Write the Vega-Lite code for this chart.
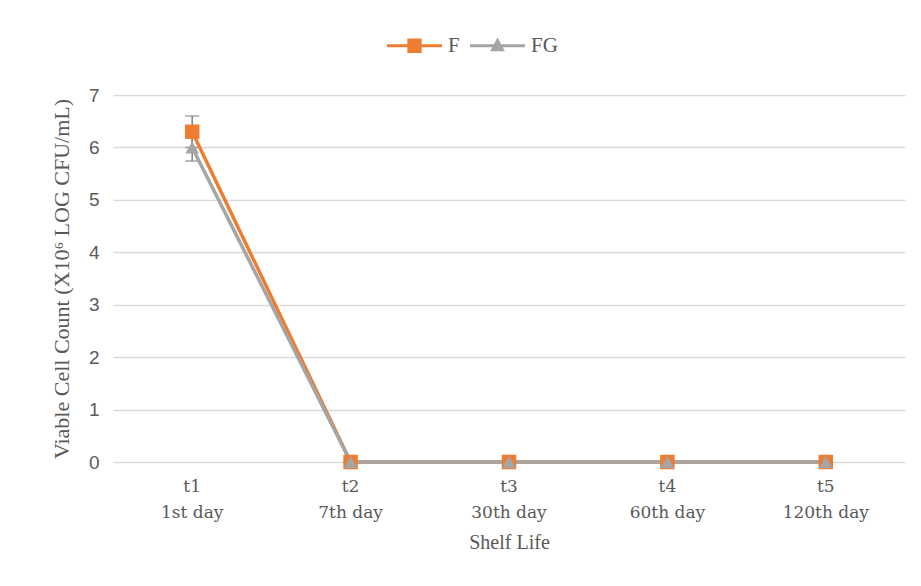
{
  "$schema": "https://vega.github.io/schema/vega-lite/v6.json",
  "autosize": {"type": "none"},
  "width": 792,
  "height": 367,
  "padding": {"left": 113, "top": 95, "right": 16, "bottom": 124},
  "background": "white",
  "config": {
    "view": {"stroke": null},
    "axis": {"labelColor": "#595959", "titleColor": "#595959", "titleFontWeight": "normal", "ticks": false, "domain": false}
  },
  "data": {
    "values": [
      {"t": "t1|1st day", "series": "F", "value": 6.3, "lo": 6.0, "hi": 6.6},
      {"t": "t2|7th day", "series": "F", "value": 0, "lo": 0, "hi": 0},
      {"t": "t3|30th day", "series": "F", "value": 0, "lo": 0, "hi": 0},
      {"t": "t4|60th day", "series": "F", "value": 0, "lo": 0, "hi": 0},
      {"t": "t5|120th day", "series": "F", "value": 0, "lo": 0, "hi": 0},
      {"t": "t1|1st day", "series": "FG", "value": 6.0, "lo": 5.74, "hi": 6.26},
      {"t": "t2|7th day", "series": "FG", "value": 0, "lo": 0, "hi": 0},
      {"t": "t3|30th day", "series": "FG", "value": 0, "lo": 0, "hi": 0},
      {"t": "t4|60th day", "series": "FG", "value": 0, "lo": 0, "hi": 0},
      {"t": "t5|120th day", "series": "FG", "value": 0, "lo": 0, "hi": 0}
    ]
  },
  "encoding": {
    "x": {
      "field": "t", "type": "ordinal", "sort": null,
      "axis": {
        "title": "Shelf Life", "labelAngle": 0, "grid": false,
        "labelExpr": "split(datum.label, '|')",
        "labelFont": "DejaVu Serif", "labelFontSize": 17, "labelLineHeight": 26, "labelPadding": 16,
        "titleFont": "Liberation Serif", "titleFontSize": 20, "titlePadding": 12
      }
    }
  },
  "layer": [
    {
      "mark": {"type": "rule", "color": "#7F7F7F", "strokeWidth": 1.5},
      "encoding": {
        "y": {"field": "lo", "type": "quantitative"},
        "y2": {"field": "hi"}
      }
    },
    {
      "mark": {"type": "tick", "color": "#7F7F7F", "orient": "horizontal", "size": 14, "thickness": 1.5},
      "encoding": {"y": {"field": "lo", "type": "quantitative"}}
    },
    {
      "mark": {"type": "tick", "color": "#7F7F7F", "orient": "horizontal", "size": 14, "thickness": 1.5},
      "encoding": {"y": {"field": "hi", "type": "quantitative"}}
    },
    {
      "mark": {"type": "line", "strokeWidth": 3.5},
      "encoding": {
        "y": {
          "field": "value", "type": "quantitative",
          "scale": {"domain": [0, 7]},
          "axis": {
            "title": "Viable Cell Count  (X10⁶ LOG CFU/mL)",
            "values": [0, 1, 2, 3, 4, 5, 6, 7], "format": "d",
            "grid": true, "gridColor": "#D9D9D9", "gridWidth": 1.3,
            "labelFont": "Liberation Sans", "labelFontSize": 19, "labelPadding": 14,
            "titleFont": "Liberation Serif", "titleFontSize": 22, "titlePadding": 15
          }
        },
        "color": {
          "field": "series", "type": "nominal",
          "scale": {"domain": ["F", "FG"], "range": ["#ED7D31", "#A5A5A5"]},
          "legend": {
            "title": null, "orient": "none", "direction": "horizontal",
            "legendX": 274, "legendY": -77,
            "symbolType": "square",
            "symbolSize": 3025, "symbolStrokeWidth": 0, "columnPadding": 10, "labelOffset": 6,
            "labelFont": "Liberation Serif", "labelFontSize": 21, "labelColor": "#595959",
            "encode": {
              "symbols": {
                "update": {
                  "shape": {"signal": "datum.value === 'F' ? 'M-1,-0.055H1V0.055H-1Z M-0.26,-0.26H0.26V0.26H-0.26Z' : 'M-1,-0.055H1V0.055H-1Z M0,-0.3L0.27,0.2H-0.27Z'"},
                  "fill": {"signal": "datum.value === 'F' ? '#ED7D31' : '#A5A5A5'"},
                  "fillOpacity": {"value": 1},
                  "strokeWidth": {"value": 0}
                }
              }
            }
          }
        }
      }
    },
    {
      "transform": [{"filter": "datum.series === 'F'"}],
      "mark": {"type": "point", "filled": true, "opacity": 1, "size": 210, "shape": "square", "color": "#ED7D31"},
      "encoding": {
        "y": {"field": "value", "type": "quantitative"}
      }
    },
    {
      "transform": [{"filter": "datum.series === 'FG'"}],
      "mark": {"type": "point", "filled": true, "opacity": 1, "size": 190, "shape": "triangle-up", "color": "#A5A5A5"},
      "encoding": {
        "y": {"field": "value", "type": "quantitative"}
      }
    }
  ]
}
